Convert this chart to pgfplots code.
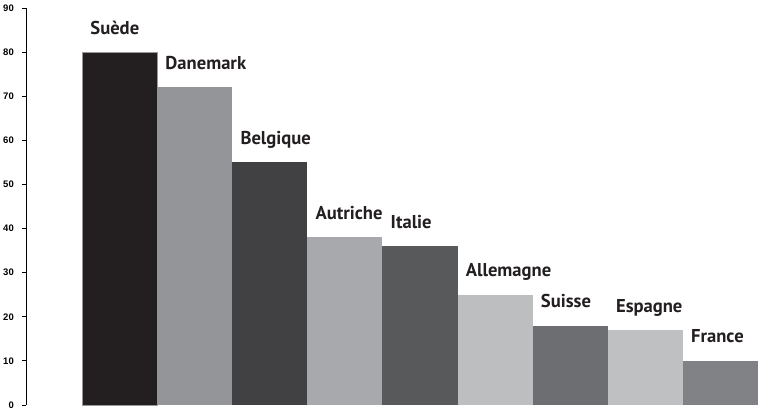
\documentclass[border=0pt]{standalone}
\usepackage{fontspec}
\setmainfont{PT Sans}
\newfontfamily\arialfont{Liberation Sans}
\usepackage{pgfplots}
\pgfplotsset{compat=1.18}
\definecolor{cSue}{HTML}{231F20}
\definecolor{cDan}{HTML}{939598}
\definecolor{cBel}{HTML}{414042}
\definecolor{cAut}{HTML}{A7A9AC}
\definecolor{cIta}{HTML}{58595B}
\definecolor{cAll}{HTML}{BCBEC0}
\definecolor{cSui}{HTML}{6D6E71}
\definecolor{cEsp}{HTML}{BEC0C2}
\definecolor{cFra}{HTML}{808285}
\begin{document}
\begin{tikzpicture}
\begin{axis}[at={(26pt,3pt)}, anchor=south west, scale only axis,
  width=732pt, height=397pt,
  xmin=-1.2467, xmax=8.5, ymin=0, ymax=90,
  axis x line=none, axis y line*=left,
  ytick={0,10,...,90}, tick align=outside, major tick length=4pt,
  tick style={black, line width=0.8pt},
  axis line style={black, line width=0.9pt},
  /pgf/number format/assume math mode=true,
  yticklabel style={font=\arialfont\bfseries\fontsize{9.5}{11}\selectfont, inner sep=0pt, xshift=-8pt},
  clip=false,
  nodes near coords, point meta=explicit symbolic,
  every node near coord/.append style={anchor=base west, xshift=-29.5pt, yshift=18pt, inner sep=0pt,
    font=\fontsize{18.6}{20}\selectfont\bfseries, text=cSue},
]
\addplot[ybar, bar width=1, bar shift=0pt, fill=cSue, draw=black!40, line width=0.6pt] coordinates {(0,80) [Suède]};
\addplot[ybar, bar width=1, bar shift=0pt, fill=cDan, draw=none] coordinates {(1,72) [Danemark]};
\addplot[ybar, bar width=1, bar shift=0pt, fill=cBel, draw=none] coordinates {(2,55) [Belgique]};
\addplot[ybar, bar width=1, bar shift=0pt, fill=cAut, draw=none] coordinates {(3,38) [Autriche]};
\addplot[ybar, bar width=1, bar shift=0pt, fill=cIta, draw=none] coordinates {(4,36) [Italie]};
\addplot[ybar, bar width=1, bar shift=0pt, fill=cAll, draw=none] coordinates {(5,25) [Allemagne]};
\addplot[ybar, bar width=1, bar shift=0pt, fill=cSui, draw=none] coordinates {(6,18) [Suisse]};
\addplot[ybar, bar width=1, bar shift=0pt, fill=cEsp, draw=none] coordinates {(7,17) [Espagne]};
\addplot[ybar, bar width=1, bar shift=0pt, fill=cFra, draw=none] coordinates {(8,10) [France]};
\end{axis}
\pgfresetboundingbox
\path[use as bounding box] (0,0) rectangle (758pt,408pt);
\end{tikzpicture}
\end{document}
